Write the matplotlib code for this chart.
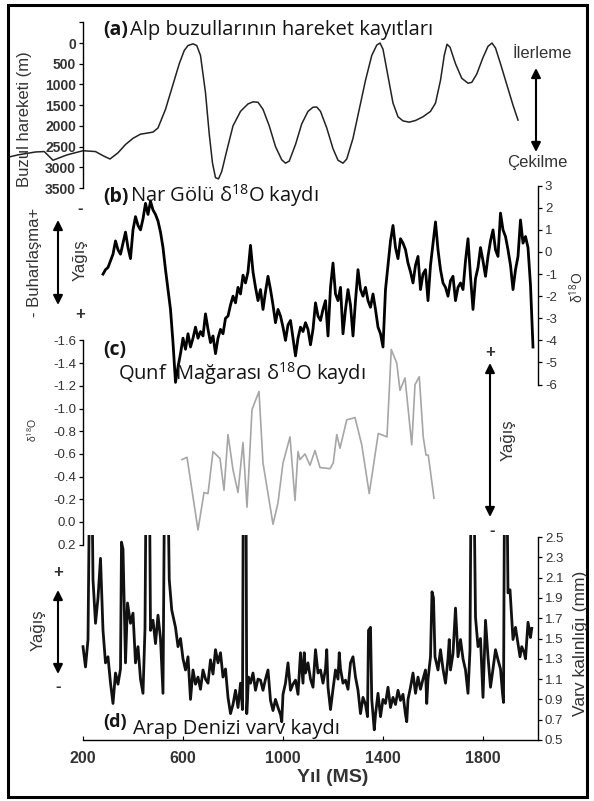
import numpy as np
import matplotlib
matplotlib.use('Agg')
from matplotlib import pyplot as plt
from matplotlib.patches import Rectangle

plt.rcParams['mathtext.fontset'] = 'custom'
plt.rcParams['mathtext.rm'] = 'Open Sans'
plt.rcParams['mathtext.it'] = 'Open Sans:italic'
plt.rcParams['mathtext.bf'] = 'Open Sans:bold'

# (a) Alp buzullari - glacier extent (m), smooth curve
glacier_years = [-130, -60, 10, 45, 80, 136, 200, 250, 280, 308, 340, 370, 400, 430, 456, 480,
                 500, 530, 560, 585, 605, 620, 640, 655, 670, 690, 705, 718, 730, 742, 755,
                 775, 800, 830, 860, 880, 900, 920, 945, 970, 995, 1010, 1025, 1050, 1075,
                 1100, 1120, 1135, 1150, 1175, 1200, 1220, 1240, 1255, 1280, 1305, 1330,
                 1355, 1375, 1388, 1400, 1420, 1440, 1460, 1480, 1505, 1530, 1560, 1590,
                 1610, 1630, 1645, 1656, 1668, 1690, 1715, 1740, 1755, 1775, 1800, 1820,
                 1836, 1850, 1870, 1900, 1920, 1940]
glacier_m = [2800, 2700, 2630, 2620, 2830, 2700, 2600, 2620, 2720, 2800, 2650, 2450, 2300, 2200,
             2175, 2150, 2050, 1600, 1000, 500, 180, 60, 20, 60, 300, 1200, 2200, 2900, 3250,
             3280, 3100, 2600, 2000, 1650, 1470, 1420, 1430, 1600, 2000, 2500, 2820, 2900,
             2850, 2450, 1950, 1650, 1550, 1545, 1650, 2050, 2550, 2830, 2900, 2800, 2300,
             1600, 900, 300, 50, 0, 150, 800, 1450, 1780, 1880, 1910, 1870, 1780, 1650,
             1450, 900, 300, 30, 100, 500, 850, 970, 950, 750, 350, 80, 0, 120, 500, 1100,
             1500, 1860]

# (b) Nar Golu d18O, 10-year steps from 280 to 2000
nar_years = list(range(280, 2001, 10))
nar_d18o = [-1.0, -0.8,
            -0.7, -0.4, -0.1, 0.5, 0.1, -0.1, 0.4, 0.9, 0.2, -0.3,
            1.0, 1.6, 1.2, 1.0, 1.5, 2.2, 1.7, 2.3, 1.9, 1.7,
            1.4, 0.9, 0.2, -0.8, -1.7, -2.6, -4.1, -5.9, -5.2, -4.6,
            -3.9, -4.4, -3.7, -4.3, -3.9, -3.4, -3.9, -3.6, -3.8, -2.8,
            -3.5, -4.1, -3.8, -4.6, -3.9, -3.5, -3.7, -3.0, -2.9, -2.4,
            -2.0, -2.3, -1.6, -1.9, -1.05, -1.4, -0.9, 0.3, -0.9, -1.6,
            -2.2, -1.7, -2.6, -1.8, -1.1, -1.7, -2.4, -3.2, -2.6, -2.9,
            -3.4, -4.0, -3.3, -3.1, -3.9, -4.7, -3.9, -3.4, -3.6, -3.2,
            -3.5, -4.2, -3.5, -2.3, -2.9, -3.1, -2.6, -2.2, -3.8, -1.6,
            -0.5, -1.9, -2.2, -1.6, -3.7, -2.6, -1.7, -2.4, -3.8, -2.2,
            -0.8, -1.7, -2.0, -1.6, -2.2, -2.5, -1.9, -2.6, -3.4, -3.7,
            -4.3, -1.7, -0.6, 0.5, 1.2, 0.2, -0.3, 0.6, 0.4, 0.1,
            -0.5, -0.9, -1.4, -0.6, -0.2, -1.7, -1.0, -0.8, -2.2, -0.6,
            0.4, 1.36, 0.1, -0.8, -1.4, -1.6, -2.0, -1.3, -1.1, -2.2,
            -1.6, -1.4, -1.7, -0.4, 0.6, -1.1, -2.6, -1.2, -0.7, 0.2,
            -0.4, -1.1, -0.2, 0.5, 1.0, 0.1, -0.2, 1.76, 1.0, 0.7,
            0.1, -0.6, -1.7, -0.8, -0.2, 1.45, 0.4, 0.7, 0.2, -1.5,
            -4.3]

# (c) Qunf Magarasi d18O
qunf_years = [596, 616, 660, 684, 700, 720, 748, 764, 780, 800, 820, 840, 856, 876, 904, 920,
              960, 980, 1000, 1028, 1048, 1060, 1068, 1088, 1108, 1128, 1148, 1188, 1201,
              1215, 1228, 1255, 1288, 1315, 1345, 1381, 1416, 1433, 1455, 1468, 1488, 1515,
              1528, 1545, 1561, 1572, 1581, 1604]
qunf_d18o = [-0.55, -0.57, 0.07, -0.26, -0.25, -0.62, -0.56, -0.28, -0.77, -0.46, -0.26, -0.70,
             -0.13, -0.99, -1.15, -0.52, 0.02, -0.17, -0.52, -0.75, -0.19, -0.62, -0.55, -0.60,
             -0.50, -0.63, -0.48, -0.47, -0.52, -0.77, -0.65, -0.90, -0.92, -0.68, -0.25,
             -0.78, -0.75, -1.52, -1.40, -1.16, -1.27, -0.68, -1.21, -1.28, -0.75, -0.59,
             -0.59, -0.21]

# (d) Arap Denizi varv thickness (mm), spikes go off the top of the axis
varv_years = [200, 210, 220, 226, 236, 240, 250, 260, 270, 280, 290,
              300, 310, 320, 330, 340, 350, 354, 360, 370, 378, 390,
              400, 410, 420, 430, 440, 448, 452, 466, 470, 480, 490,
              500, 510, 520, 526, 540, 545, 555, 570, 580, 590,
              600, 610, 620, 630, 640, 650, 660, 670, 680, 690,
              700, 710, 720, 730, 740, 750, 760, 770, 780, 790,
              800, 810, 820, 830, 838, 841, 852, 855, 862, 870, 880, 890,
              900, 910, 920, 930, 940, 950, 960, 970, 980, 990, 995,
              1000, 1010, 1020, 1030, 1040, 1050, 1060, 1070, 1080, 1085, 1090,
              1100, 1110, 1120, 1130, 1140, 1150, 1160, 1170, 1175, 1180, 1190,
              1200, 1210, 1220, 1225, 1230, 1240, 1250, 1260, 1270, 1280, 1290,
              1300, 1310, 1320, 1330, 1338, 1342, 1350, 1355, 1365, 1370, 1380, 1390,
              1400, 1410, 1420, 1430, 1440, 1450, 1460, 1470, 1480, 1490, 1495,
              1500, 1510, 1520, 1530, 1540, 1550, 1560, 1570, 1575, 1580, 1590, 1596,
              1602, 1608, 1620, 1630, 1640, 1650, 1660, 1665, 1670, 1680, 1690,
              1700, 1710, 1720, 1730, 1740, 1748, 1752, 1764, 1770, 1780, 1790,
              1800, 1810, 1820, 1830, 1840, 1850, 1860, 1870, 1878, 1882, 1886, 1896,
              1900, 1908, 1915, 1920, 1930, 1940, 1948, 1955, 1965, 1970, 1980, 1990, 1995]
varv_mm = [1.42, 1.22, 1.49, 3.0, 3.0, 2.08, 1.65, 1.9, 2.29, 1.58, 1.26,
           1.32, 1.06, 0.86, 1.16, 1.05, 1.2, 2.45, 2.38, 1.26, 1.85, 1.65,
           1.75, 1.26, 1.42, 1.1, 0.96, 1.6, 3.0, 3.0, 1.58, 1.68, 1.45,
           1.73, 1.5, 0.96, 3.0, 3.0, 2.08, 1.78, 1.61, 1.42, 1.5,
           1.3, 1.19, 1.32, 0.9, 1.19, 1.05, 1.12, 1.0, 1.19, 1.1,
           1.06, 1.29, 1.15, 1.39, 1.26, 1.36, 1.12, 1.2, 0.92, 0.76,
           0.85, 0.99, 0.82, 1.06, 0.8, 3.0, 3.0, 0.76, 1.12, 1.06, 1.16, 0.99,
           1.1, 1.09, 0.99, 1.1, 1.19, 0.89, 0.79, 0.9, 0.82, 0.75, 0.68,
           0.95, 1.06, 1.26, 0.99, 1.05, 1.09, 0.95, 1.36, 1.06, 1.36, 1.16,
           1.26, 1.1, 1.02, 1.39, 1.16, 1.19, 1.06, 1.2, 1.39, 1.02, 0.8,
           1.0, 1.19, 1.1, 1.36, 1.2, 1.06, 1.09, 1.0, 1.26, 1.32, 1.12,
           0.99, 0.76, 0.92, 0.85, 0.73, 1.58, 1.61, 0.9, 0.6, 0.75, 0.96, 0.73,
           0.9, 0.86, 1.02, 0.82, 0.92, 0.85, 0.99, 0.89, 0.95, 0.75, 0.68,
           0.9, 1.02, 1.16, 0.96, 1.12, 1.0, 1.1, 1.19, 0.86, 1.1, 1.32, 1.96,
           1.9, 1.32, 1.19, 1.39, 1.2, 1.06, 1.3, 1.49, 1.19, 1.35, 1.8,
           1.32, 1.49, 1.3, 1.19, 0.96, 1.39, 3.0, 3.0, 1.71, 1.42, 1.5,
           0.92, 1.68, 1.32, 1.02, 1.2, 1.39, 1.29, 1.2, 0.96, 0.87, 3.0, 3.0,
           1.95, 1.98, 1.7, 1.49, 1.61, 1.45, 1.32, 1.42, 1.36, 1.3, 1.66, 1.51, 1.6]

glacier_ticks = [-500, 0, 500, 1000, 1500, 2000, 2500, 3000, 3500]
nar_ticks = [-6, -5, -4, -3, -2, -1, 0, 1, 2, 3]
qunf_ticks = [-1.6, -1.4, -1.2, -1.0, -0.8, -0.6, -0.4, -0.2, 0.0, 0.2]
varv_ticks = [0.5, 0.7, 0.9, 1.1, 1.3, 1.5, 1.7, 1.9, 2.1, 2.3, 2.5]
year_ticks = [200, 600, 1000, 1400, 1800]

W, H = 594, 801
fig = plt.figure(figsize=(W / 100, H / 100), dpi=100)
fig.patch.set_facecolor('white')

TICKFONT = 'Liberation Sans'
TITLEFONT = 'Open Sans'
TXT = '#333333'
INK = '#141414'


def add_panel(top, bottom):
    ax = fig.add_axes([8 / W, 1 - bottom / H, 530 / W, (bottom - top) / H])
    ax.set_facecolor('none')
    for s in ax.spines.values():
        s.set_visible(False)
        s.set_linewidth(1.0)
    ax.set_xlim(-100, 2020)
    ax.set_xticks([])
    ax.tick_params(axis='y', length=3, width=0.9, pad=2, colors='black')
    return ax


def fmt(v, nd):
    return f'{v:.{nd}f}'.replace('\u2212', '-')


# (a)
ax_a = add_panel(20, 190)
ax_a.plot(glacier_years, glacier_m, color='#222222', lw=1.1)
ax_a.set_ylim(3548, -556)
ax_a.spines['left'].set_visible(True)
ax_a.spines['left'].set_position(('data', 200))
ax_a.spines['left'].set_bounds(-500, 3500)
ax_a.set_yticks(glacier_ticks)
ax_a.set_yticklabels([''] + [str(t) for t in glacier_ticks[1:]], fontfamily=TICKFONT,
                     fontsize=10, fontweight='bold', color=TXT)

# (b)
ax_b = add_panel(175, 390)
ax_b.plot(nar_years, nar_d18o, color='black', lw=2.0)
ax_b.set_ylim(-6.245, 3.484)
ax_b.spines['right'].set_visible(True)
ax_b.spines['right'].set_bounds(-6, 3)
ax_b.yaxis.tick_right()
ax_b.set_yticks(nar_ticks)
ax_b.set_yticklabels([str(t) for t in nar_ticks], fontfamily=TICKFONT, fontsize=9.5, color=TXT)

# (c)
ax_c = add_panel(335, 550)
ax_c.plot(qunf_years, qunf_d18o, color='#a6a6a6', lw=1.2)
ax_c.set_ylim(0.2467, -1.6476)
ax_c.spines['left'].set_visible(True)
ax_c.spines['left'].set_position(('data', 200))
ax_c.spines['left'].set_bounds(-1.6, 0.2)
ax_c.set_yticks(qunf_ticks)
ax_c.set_yticklabels([fmt(t, 1) for t in qunf_ticks], fontfamily=TICKFONT, fontsize=9.5,
                     color=TXT)

# (d)
ax_d = add_panel(535, 740)
ax_d.plot(varv_years, varv_mm, color='#111111', lw=2.0)
ax_d.set_ylim(0.5, 2.52)
ax_d.spines['right'].set_visible(True)
ax_d.spines['right'].set_bounds(0.5, 2.5)
ax_d.spines['bottom'].set_visible(True)
ax_d.spines['bottom'].set_bounds(200, 2020)
ax_d.yaxis.tick_right()
ax_d.set_yticks(varv_ticks)
ax_d.set_yticklabels([fmt(t, 1) for t in varv_ticks], fontfamily=TICKFONT, fontsize=9.5,
                     color=TXT)
ax_d.set_xticks(year_ticks)
ax_d.set_xticklabels([str(t) for t in year_ticks], fontfamily=TICKFONT, fontsize=11.5,
                     fontweight='bold', color=TXT)
ax_d.tick_params(axis='x', direction='in', length=3, pad=8)

# overlay for annotations, in image pixel coordinates
ov = fig.add_axes([0, 0, 1, 1])
ov.set_xlim(0, W)
ov.set_ylim(H, 0)
ov.axis('off')
ov.set_facecolor('none')
ov.add_patch(Rectangle((8, 5), 579, 792, fill=False, lw=2.2, ec='black'))


def arrow(x, y0, y1):
    ov.annotate('', xy=(x, y0), xytext=(x, y1),
                arrowprops=dict(arrowstyle='<|-|>', lw=1.5, color='black',
                                mutation_scale=14, shrinkA=0, shrinkB=0))


def label(x, y, s, size=12, rot=0, weight='normal', family=TICKFONT, ha='center',
          va='center', color=TXT):
    ov.text(x, y, s, fontsize=size, rotation=rot, fontweight=weight, fontfamily=family,
            ha=ha, va=va, color=color)


def title(y, tag, s, x_text, tag_y=None, tag_size=14):
    label(103, tag_y if tag_y is not None else y, tag, size=tag_size, weight='bold',
          family=TITLEFONT, ha='left', va='baseline', color=INK)
    label(x_text, y, s, size=14.5, family=TITLEFONT, ha='left', va='baseline', color=INK)


title(35, '(a)', 'Alp buzullarının hareket kayıtları', 130)
title(202, '(b)', r'Nar Gölü δ$^{18}$O kaydı', 130)
title(380, '(c)', r'Qunf  Mağarası δ$^{18}$O kaydı', 118, tag_y=355)
title(734, '(d)', 'Arap Denizi varv kaydı', 133, tag_y=727, tag_size=13)

# axis labels
label(25, 119, 'Buzul hareketi (m)', size=12, rot=90)
label(577, 287, r'δ$^{18}$O', size=10, rot=90)
label(32, 430, r'δ$^{18}$O', size=7.5, rot=90)
label(581, 643, 'Varv kalınlığı (mm)', size=12.5, rot=90)
label(333, 777, 'Yıl (MS)', size=14, weight='bold')

# (a) right side
label(542, 53, 'İlerleme', size=12)
label(537, 162, 'Çekilme', size=12)
arrow(536, 68, 152)

# (b) left side
label(35, 262, '- Buharlaşma+', size=12, rot=90)
arrow(58, 220, 305)
label(80, 260, 'Yağış', size=12, rot=90)
label(80, 209, '-', size=12, weight='bold')
label(80, 315, '+', size=12, weight='bold')

# (c) right side
label(490, 352, '+', size=12, weight='bold')
arrow(490, 363, 517)
label(508, 440, 'Yağış', size=12, rot=90)
label(492, 531, '-', size=12, weight='bold')

# (d) left side
label(58, 573, '+', size=12, weight='bold')
arrow(58, 590, 674)
label(38, 630, 'Yağış', size=12, rot=90)
label(58, 687, '-', size=12, weight='bold')

fig.savefig('out.png', dpi=100)
